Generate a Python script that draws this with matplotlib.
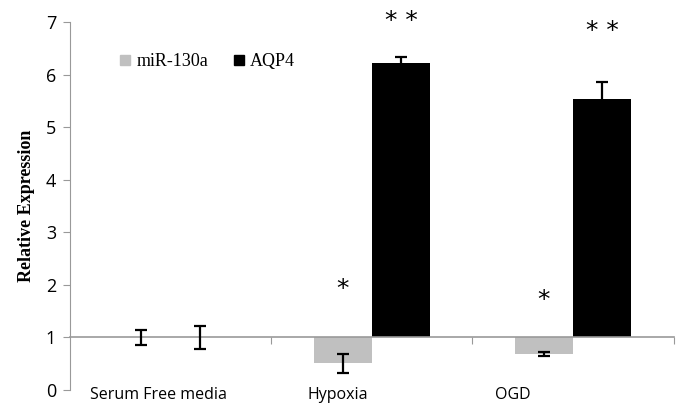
import matplotlib.pyplot as plt
from matplotlib.lines import Line2D

# Data (relative expression, baseline 1)
groups = ["Serum Free media", "Hypoxia", "OGD"]
mir130a = [1.0, 0.51, 0.68]
mir130a_err = [0.14, 0.18, 0.04]
aqp4 = [1.0, 6.22, 5.53]
aqp4_err = [0.22, 0.11, 0.33]
mir_marks = ["", "*", "*"]
aqp4_marks = ["", "* *", "* *"]

grey = "#c0c0c0"
baseline = 1.0
width = 0.29

fig = plt.figure(figsize=(6.76, 4.04), dpi=100)
ax = fig.add_axes([0.1036, 0.0347, 0.893, 0.9108])

x = list(range(len(groups)))
x_mir = [i - width / 2 for i in x]
x_aqp = [i + width / 2 for i in x]

# Bars start from the baseline at 1
ax.bar(x_mir, [v - baseline for v in mir130a], width, bottom=baseline,
       color=grey, zorder=2)
ax.bar(x_aqp, [v - baseline for v in aqp4], width, bottom=baseline,
       color="black", zorder=2)
ax.errorbar(x_mir, mir130a, yerr=mir130a_err, fmt="none", ecolor="black",
            elinewidth=1.6, capsize=4, capthick=1.6, zorder=3)
ax.errorbar(x_aqp, aqp4, yerr=aqp4_err, fmt="none", ecolor="black",
            elinewidth=1.6, capsize=4, capthick=1.6, zorder=3)

# Significance stars
mir_star_y = [0, 1.93, 1.72]
aqp_star_y = [0, 7.02, 6.82]
for i in x:
    if mir_marks[i]:
        ax.text(x_mir[i], mir_star_y[i], mir_marks[i], ha="center",
                va="center", fontsize=18, clip_on=False)
    if aqp4_marks[i]:
        ax.text(x_aqp[i], aqp_star_y[i], aqp4_marks[i], ha="center",
                va="center", fontsize=18, clip_on=False)

ax.set_xlim(-0.5, 2.5)
ax.set_ylim(0, 7)

# Horizontal axis sits at the baseline, ticks between categories
ax.spines["bottom"].set_position(("data", baseline))
ax.spines["bottom"].set_color("#999999")
ax.spines["bottom"].set_linewidth(1.2)
ax.spines["left"].set_color("#999999")
ax.spines["top"].set_visible(False)
ax.spines["right"].set_visible(False)
ax.set_xticks([0.5, 1.5, 2.5])
ax.set_xticklabels([])
ax.tick_params(axis="x", direction="out", length=5, color="#999999")
ax.set_yticks(range(0, 8))
ax.tick_params(axis="y", direction="out", length=5, color="#999999",
               labelsize=13, pad=5)
for lbl in ax.get_yticklabels():
    lbl.set_family("Open Sans")

# Category labels below y = 0 (offset as in the original)
label_x = [-0.06, 0.83, 1.70]
for lx, name in zip(label_x, groups):
    ax.text(lx, -0.17, name, ha="center", va="baseline", fontsize=11.5,
            family="Open Sans", clip_on=False)

ax.set_ylabel("Relative Expression", family="Liberation Serif",
              fontweight="bold", fontsize=13, labelpad=8)

handles = [
    Line2D([], [], marker="s", linestyle="none", color=grey, markersize=7),
    Line2D([], [], marker="s", linestyle="none", color="black", markersize=7),
]
ax.legend(handles, ["miR-130a", "AQP4"], loc="upper left",
          bbox_to_anchor=(0.05, 0.96), ncol=2, frameon=False,
          prop={"family": "Liberation Serif", "size": 13},
          handletextpad=0.1, columnspacing=1.2, handlelength=1)

plt.savefig("out.png", dpi=100)
